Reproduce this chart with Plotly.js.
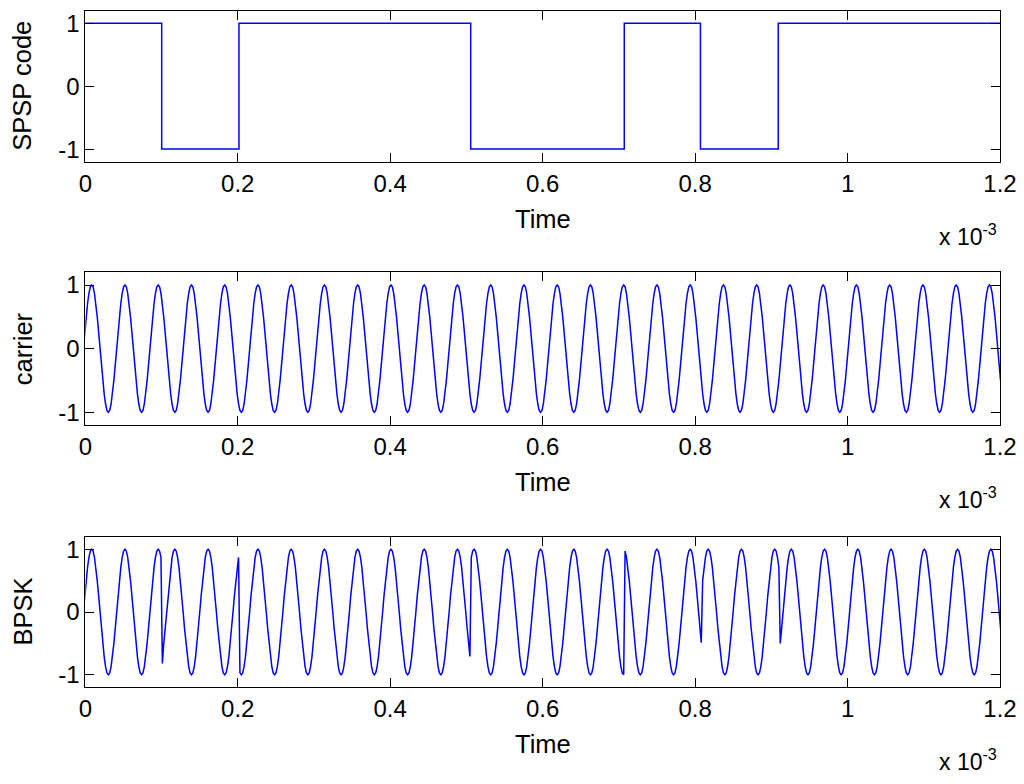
<!DOCTYPE html>
<html>
<head>
<meta charset="utf-8">
<script src="https://cdn.plot.ly/plotly-3.0.1.min.js"></script>
<style>
html,body{margin:0;padding:0;background:#fff;}
#chart{width:1024px;height:784px;}
</style>
</head>
<body>
<div id="chart"></div>
<script>
// ---------- data (time in units of 1e-3 s) ----------
const xTickValues = [0, 0.2, 0.4, 0.6, 0.8, 1, 1.2];
const xTickLabels = ['0', '0.2', '0.4', '0.6', '0.8', '1', '1.2'];
const yTickValues = [-1, 0, 1];
const yTickLabels = ['-1', '0', '1'];

// SPSP code: level changes (time, level)
const codeTimes  = [0, 0.1002, 0.2016, 0.5056, 0.7071, 0.8070, 0.9091, 1.2];
const codeLevels = [1, -1, 1, -1, 1, -1, 1, 1];

// uniform sampling of the carrier / BPSK traces
const sampleStart = -0.002505;
const sampleStep = 0.0018175;

const carrierValues = [
0,.26,.5,.71,.87,.97,1,.97,.87,.71,.5,.26,0,-.26,-.5,-.71,-.87,-.97,-1,-.97,-.87,-.71,-.5,-.26,
0,.26,.5,.71,.87,.97,1,.97,.87,.71,.5,.26,0,-.26,-.5,-.71,-.87,-.97,-1,-.97,-.87,-.71,-.5,-.26,
0,.26,.5,.71,.87,.97,1,.97,.87,.71,.5,.26,0,-.26,-.5,-.71,-.87,-.97,-1,-.97,-.87,-.71,-.5,-.26,
0,.26,.5,.71,.87,.97,1,.97,.87,.71,.5,.26,0,-.26,-.5,-.71,-.87,-.97,-1,-.97,-.87,-.71,-.5,-.26,
0,.26,.5,.71,.87,.97,1,.97,.87,.71,.5,.26,0,-.26,-.5,-.71,-.87,-.97,-1,-.97,-.87,-.71,-.5,-.26,
0,.26,.5,.71,.87,.97,1,.97,.87,.71,.5,.26,0,-.26,-.5,-.71,-.87,-.97,-1,-.97,-.87,-.71,-.5,-.26,
0,.26,.5,.71,.87,.97,1,.97,.87,.71,.5,.26,0,-.26,-.5,-.71,-.87,-.97,-1,-.97,-.87,-.71,-.5,-.26,
0,.26,.5,.71,.87,.97,1,.97,.87,.71,.5,.26,0,-.26,-.5,-.71,-.87,-.97,-1,-.97,-.87,-.71,-.5,-.26,
0,.26,.5,.71,.87,.97,1,.97,.87,.71,.5,.26,0,-.26,-.5,-.71,-.87,-.97,-1,-.97,-.87,-.71,-.5,-.26,
0,.26,.5,.71,.87,.97,1,.97,.87,.71,.5,.26,0,-.26,-.5,-.71,-.87,-.97,-1,-.97,-.87,-.71,-.5,-.26,
0,.26,.5,.71,.87,.97,1,.97,.87,.71,.5,.26,0,-.26,-.5,-.71,-.87,-.97,-1,-.97,-.87,-.71,-.5,-.26,
0,.26,.5,.71,.87,.97,1,.97,.87,.71,.5,.26,0,-.26,-.5,-.71,-.87,-.97,-1,-.97,-.87,-.71,-.5,-.26,
0,.26,.5,.71,.87,.97,1,.97,.87,.71,.5,.26,0,-.26,-.5,-.71,-.87,-.97,-1,-.97,-.87,-.71,-.5,-.26,
0,.26,.5,.71,.87,.97,1,.97,.87,.71,.5,.26,0,-.26,-.5,-.71,-.87,-.97,-1,-.97,-.87,-.71,-.5,-.26,
0,.26,.5,.71,.87,.97,1,.97,.87,.71,.5,.26,0,-.26,-.5,-.71,-.87,-.97,-1,-.97,-.87,-.71,-.5,-.26,
0,.26,.5,.71,.87,.97,1,.97,.87,.71,.5,.26,0,-.26,-.5,-.71,-.87,-.97,-1,-.97,-.87,-.71,-.5,-.26,
0,.26,.5,.71,.87,.97,1,.97,.87,.71,.5,.26,0,-.26,-.5,-.71,-.87,-.97,-1,-.97,-.87,-.71,-.5,-.26,
0,.26,.5,.71,.87,.97,1,.97,.87,.71,.5,.26,0,-.26,-.5,-.71,-.87,-.97,-1,-.97,-.87,-.71,-.5,-.26,
0,.26,.5,.71,.87,.97,1,.97,.87,.71,.5,.26,0,-.26,-.5,-.71,-.87,-.97,-1,-.97,-.87,-.71,-.5,-.26,
0,.26,.5,.71,.87,.97,1,.97,.87,.71,.5,.26,0,-.26,-.5,-.71,-.87,-.97,-1,-.97,-.87,-.71,-.5,-.26,
0,.26,.5,.71,.87,.97,1,.97,.87,.71,.5,.26,0,-.26,-.5,-.71,-.87,-.97,-1,-.97,-.87,-.71,-.5,-.26,
0,.26,.5,.71,.87,.97,1,.97,.87,.71,.5,.26,0,-.26,-.5,-.71,-.87,-.97,-1,-.97,-.87,-.71,-.5,-.26,
0,.26,.5,.71,.87,.97,1,.97,.87,.71,.5,.26,0,-.26,-.5,-.71,-.87,-.97,-1,-.97,-.87,-.71,-.5,-.26,
0,.26,.5,.71,.87,.97,1,.97,.87,.71,.5,.26,0,-.26,-.5,-.71,-.87,-.97,-1,-.97,-.87,-.71,-.5,-.26,
0,.26,.5,.71,.87,.97,1,.97,.87,.71,.5,.26,0,-.26,-.5,-.71,-.87,-.97,-1,-.97,-.87,-.71,-.5,-.26,
0,.26,.5,.71,.87,.97,1,.97,.87,.71,.5,.26,0,-.26,-.5,-.71,-.87,-.97,-1,-.97,-.87,-.71,-.5,-.26,
0,.26,.5,.71,.87,.97,1,.97,.87,.71,.5,.26,0,-.26,-.5,-.71,-.87,-.97,-1,-.97,-.87,-.71,-.5,-.26,
0,.26,.5,.71,.87,.97,1,.97,.87,.71,.5,.26,0,-.26,-.5
];

const bpskValues = [
0,.26,.5,.71,.87,.97,1,.97,.87,.71,.5,.26,0,-.26,-.5,-.71,-.87,-.97,-1,-.97,-.87,-.71,-.5,-.26,
0,.26,.5,.71,.87,.97,1,.97,.87,.71,.5,.26,0,-.26,-.5,-.71,-.87,-.97,-1,-.97,-.87,-.71,-.5,-.26,
0,.26,.5,.71,.87,.97,1,.97,.87,-.82,-.5,-.26,0,.26,.5,.71,.87,.97,1,.97,.87,.71,.5,.26,
0,-.26,-.5,-.71,-.87,-.97,-1,-.97,-.87,-.71,-.5,-.26,0,.26,.5,.71,.87,.97,1,.97,.87,.71,.5,.26,
0,-.26,-.5,-.71,-.87,-.97,-1,-.97,-.87,-.71,-.5,-.26,0,.26,.5,.71,.87,-.97,-1,-.97,-.87,-.71,-.5,-.26,
0,.26,.5,.71,.87,.97,1,.97,.87,.71,.5,.26,0,-.26,-.5,-.71,-.87,-.97,-1,-.97,-.87,-.71,-.5,-.26,
0,.26,.5,.71,.87,.97,1,.97,.87,.71,.5,.26,0,-.26,-.5,-.71,-.87,-.97,-1,-.97,-.87,-.71,-.5,-.26,
0,.26,.5,.71,.87,.97,1,.97,.87,.71,.5,.26,0,-.26,-.5,-.71,-.87,-.97,-1,-.97,-.87,-.71,-.5,-.26,
0,.26,.5,.71,.87,.97,1,.97,.87,.71,.5,.26,0,-.26,-.5,-.71,-.87,-.97,-1,-.97,-.87,-.71,-.5,-.26,
0,.26,.5,.71,.87,.97,1,.97,.87,.71,.5,.26,0,-.26,-.5,-.71,-.87,-.97,-1,-.97,-.87,-.71,-.5,-.26,
0,.26,.5,.71,.87,.97,1,.97,.87,.71,.5,.26,0,-.26,-.5,-.71,-.87,-.97,-1,-.97,-.87,-.71,-.5,-.26,
0,.26,.5,.71,.87,.97,1,.97,.87,.71,.5,.26,0,-.26,-.5,-.71,.87,.97,1,.97,.87,.71,.5,.26,
0,-.26,-.5,-.71,-.87,-.97,-1,-.97,-.87,-.71,-.5,-.26,0,.26,.5,.71,.87,.97,1,.97,.87,.71,.5,.26,
0,-.26,-.5,-.71,-.87,-.97,-1,-.97,-.87,-.71,-.5,-.26,0,.26,.5,.71,.87,.97,1,.97,.87,.71,.5,.26,
0,-.26,-.5,-.71,-.87,-.97,-1,-.97,-.87,-.71,-.5,-.26,0,.26,.5,.71,.87,.97,1,.97,.87,.71,.5,.26,
0,-.26,-.5,-.71,-.87,-.97,-1,-.97,-.87,-.71,-.5,-.26,0,.26,.5,.71,.87,.97,1,.97,.87,.71,.5,.26,
0,-.26,-.5,-.71,-.87,-.97,-1,.97,.87,.71,.5,.26,0,-.26,-.5,-.71,-.87,-.97,-1,-.97,-.87,-.71,-.5,-.26,
0,.26,.5,.71,.87,.97,1,.97,.87,.71,.5,.26,0,-.26,-.5,-.71,-.87,-.97,-1,-.97,-.87,-.71,-.5,-.26,
0,.26,.5,.71,.87,.97,1,.97,.87,.71,.5,.26,0,-.26,-.49,.5,.71,.87,.97,1,.97,.87,.71,.5,.26,
0,-.26,-.5,-.71,-.87,-.97,-1,-.97,-.87,-.71,-.5,-.26,0,.26,.5,.71,.87,.97,1,.97,.87,.71,.5,.26,
0,-.26,-.5,-.71,-.87,-.97,-1,-.97,-.87,-.71,-.5,-.26,0,.26,.5,.71,.87,.97,1,.97,.87,.71,-.5,-.26,
0,.26,.5,.71,.87,.97,1,.97,.87,.71,.5,.26,0,-.26,-.5,-.71,-.87,-.97,-1,-.97,-.87,-.71,-.5,-.26,
0,.26,.5,.71,.87,.97,1,.97,.87,.71,.5,.26,0,-.26,-.5,-.71,-.87,-.97,-1,-.97,-.87,-.71,-.5,-.26,
0,.26,.5,.71,.87,.97,1,.97,.87,.71,.5,.26,0,-.26,-.5,-.71,-.87,-.97,-1,-.97,-.87,-.71,-.5,-.26,
0,.26,.5,.71,.87,.97,1,.97,.87,.71,.5,.26,0,-.26,-.5,-.71,-.87,-.97,-1,-.97,-.87,-.71,-.5,-.26,
0,.26,.5,.71,.87,.97,1,.97,.87,.71,.5,.26,0,-.26,-.5,-.71,-.87,-.97,-1,-.97,-.87,-.71,-.5,-.26,
0,.26,.5,.71,.87,.97,1,.97,.87,.71,.5,.26,0,-.26,-.5,-.71,-.87,-.97,-1,-.97,-.87,-.71,-.5,-.26,
0,.26,.5,.71,.87,.97,1,.97,.87,.71,.5,.26,0,-.26,-.5
];

const panelLabels = ['SPSP code', 'carrier', 'BPSK'];
const xLabel = 'Time';
const exponentLabel = 'x 10<sup>-3</sup>';

// ---------- styling ----------
const LINE_COLOR = '#0000ff';
const TICK_FONT = {family: 'Liberation Sans, Arial, sans-serif', size: 24, color: '#000'};
const LABEL_FONT = {family: 'Liberation Sans, Arial, sans-serif', size: 25.5, color: '#000'};
const EXP_FONT = {family: 'Liberation Sans, Arial, sans-serif', size: 23, color: '#000'};

const H = 784, W = 1024;
const xDomain = [85.3 / W, 1000 / W];
const panelsPx = [[10.7, 161.7], [272.3, 425], [536.7, 687.3]];
const yDomains = panelsPx.map(p => [(H - p[1]) / H, (H - p[0]) / H]);

function xAxis(anchor) {
  return {
    domain: xDomain, anchor: anchor, range: [0, 1.2],
    tickmode: 'array', tickvals: xTickValues, ticktext: xTickLabels,
    ticks: 'inside', ticklen: 9, tickwidth: 1, tickcolor: '#000',
    showline: true, linecolor: '#000', linewidth: 1, mirror: 'ticks',
    showgrid: false, zeroline: false, tickfont: TICK_FONT, fixedrange: true
  };
}
function yAxis(anchor, dom) {
  return {
    domain: dom, anchor: anchor, range: [-1.2, 1.2],
    tickmode: 'array', tickvals: yTickValues, ticktext: yTickLabels,
    ticks: 'inside', ticklen: 9, tickwidth: 1, tickcolor: '#000',
    showline: true, linecolor: '#000', linewidth: 1, mirror: 'ticks',
    showgrid: false, zeroline: false, tickfont: TICK_FONT, fixedrange: true
  };
}

const traces = [
  {x: codeTimes, y: codeLevels, type: 'scatter', mode: 'lines', line: {color: LINE_COLOR, width: 1.5, shape: 'hv'}, xaxis: 'x', yaxis: 'y', hoverinfo: 'skip'},
  {y: carrierValues, x0: sampleStart, dx: sampleStep, type: 'scatter', mode: 'lines', line: {color: LINE_COLOR, width: 1.5}, xaxis: 'x2', yaxis: 'y2', hoverinfo: 'skip'},
  {y: bpskValues, x0: sampleStart, dx: sampleStep, type: 'scatter', mode: 'lines', line: {color: LINE_COLOR, width: 1.5}, xaxis: 'x3', yaxis: 'y3', hoverinfo: 'skip'}
];

const annotations = [];
['', '2', '3'].forEach((s, i) => {
  annotations.push({text: xLabel, xref: 'x' + s + ' domain', yref: 'y' + s + ' domain', x: 0.5, y: 0, yshift: -57, xanchor: 'center', yanchor: 'middle', showarrow: false, font: LABEL_FONT});
  annotations.push({text: exponentLabel, xref: 'x' + s + ' domain', yref: 'y' + s + ' domain', x: 1, y: 0, xshift: -1, yshift: -73, xanchor: 'right', yanchor: 'middle', showarrow: false, font: EXP_FONT});
  annotations.push({text: panelLabels[i], xref: 'paper', yref: 'y' + s + ' domain', x: 22.5 / W, y: 0.5, xanchor: 'center', yanchor: 'middle', textangle: -90, showarrow: false, font: LABEL_FONT});
});

const layout = {
  width: W, height: H, margin: {l: 0, r: 0, t: 0, b: 0},
  paper_bgcolor: '#fff', plot_bgcolor: '#fff', showlegend: false,
  xaxis: xAxis('y'), yaxis: yAxis('x', yDomains[0]),
  xaxis2: xAxis('y2'), yaxis2: yAxis('x2', yDomains[1]),
  xaxis3: xAxis('y3'), yaxis3: yAxis('x3', yDomains[2]),
  annotations: annotations
};

Plotly.newPlot('chart', traces, layout, {displayModeBar: false, staticPlot: true});
</script>
</body>
</html>
